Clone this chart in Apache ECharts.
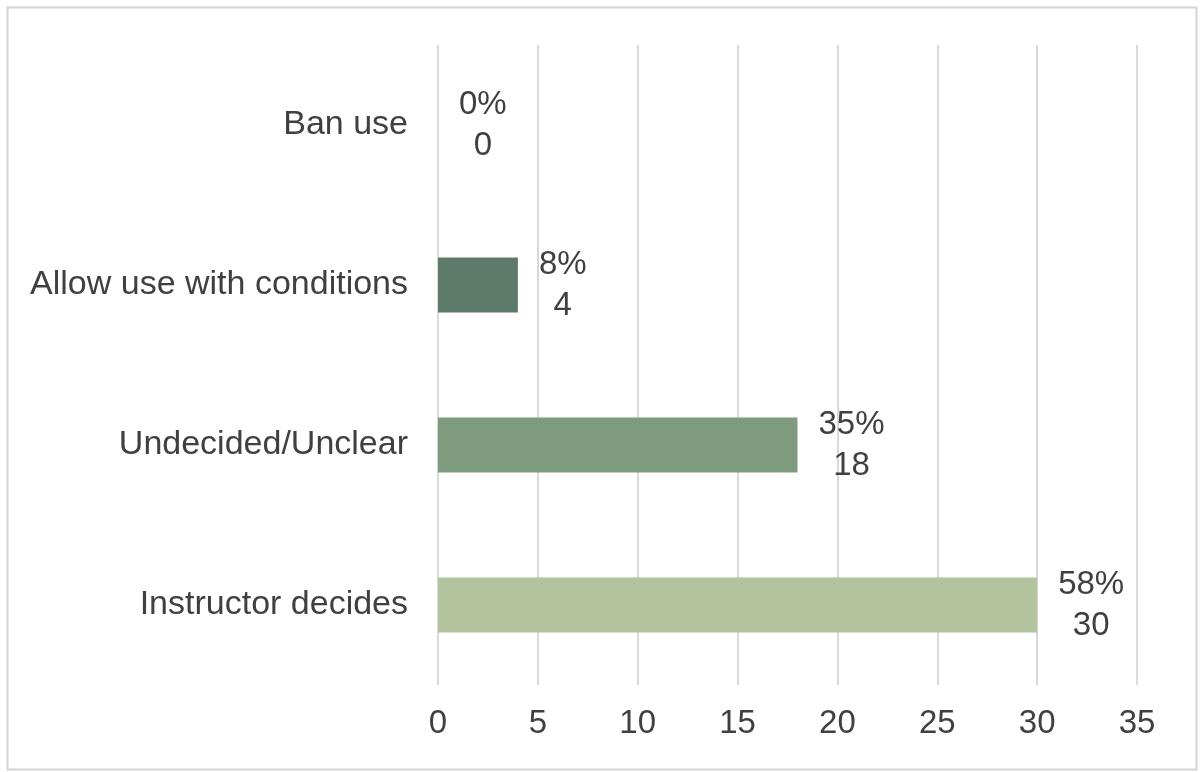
<!DOCTYPE html>
<html>
<head>
<meta charset="utf-8">
<script src="https://cdn.jsdelivr.net/npm/echarts@6/dist/echarts.min.js"></script>
<style>html,body{margin:0;padding:0;background:#fff}#c{width:1200px;height:772px}</style>
</head>
<body>
<div id="c"></div>
<script>
const categories = ["Instructor decides", "Undecided/Unclear", "Allow use with conditions", "Ban use"];
const counts = [30, 18, 4, 0];
const percents = ["58%", "35%", "8%", "0%"];
const xTicks = [0, 5, 10, 15, 20, 25, 30, 35];
const barColors = ["#b3c39d", "#7e9c7d", "#5e7a6a", "#4a6355"];

const chart = echarts.init(document.getElementById('c'), null, {renderer: 'canvas'});
const FONT = "'Liberation Sans', Arial, Helvetica, sans-serif";
const TXT = '#404040';
const FS = 33;

chart.setOption({
  backgroundColor: '#ffffff',
  animation: false,
  graphic: [{
    type: 'rect', left: 5, top: 5, z: -1,
    shape: {width: 1189, height: 762},
    style: {fill: 'none', stroke: '#d4d4d4', lineWidth: 2}
  }],
  grid: {left: 438, right: 63, top: 45, bottom: 87, containLabel: false},
  xAxis: {
    type: 'value',
    min: xTicks[0], max: xTicks[xTicks.length - 1], interval: 5,
    axisLine: {show: false},
    axisTick: {show: false},
    splitLine: {show: true, lineStyle: {color: '#d9d9d9', width: 2}},
    axisLabel: {color: TXT, fontSize: FS, fontFamily: FONT, margin: 22}
  },
  yAxis: {
    type: 'category',
    data: categories,
    axisLine: {show: false},
    axisTick: {show: false},
    splitLine: {show: false},
    axisLabel: {color: TXT, fontSize: 34, fontFamily: FONT, margin: 30}
  },
  series: [{
    type: 'bar',
    barWidth: 55,
    data: counts.map((v, i) => ({value: v, itemStyle: {color: barColors[i]}})),
    label: {
      show: true,
      position: 'right',
      distance: 21,
      color: TXT,
      fontFamily: FONT,
      fontSize: FS,
      lineHeight: 41,
      formatter: p => '{a|' + percents[p.dataIndex] + '}\n{a|' + counts[p.dataIndex] + '}',
      rich: {a: {align: 'center', color: TXT, fontSize: FS, fontFamily: FONT, lineHeight: 41}}
    }
  }]
});
</script>
</body>
</html>
